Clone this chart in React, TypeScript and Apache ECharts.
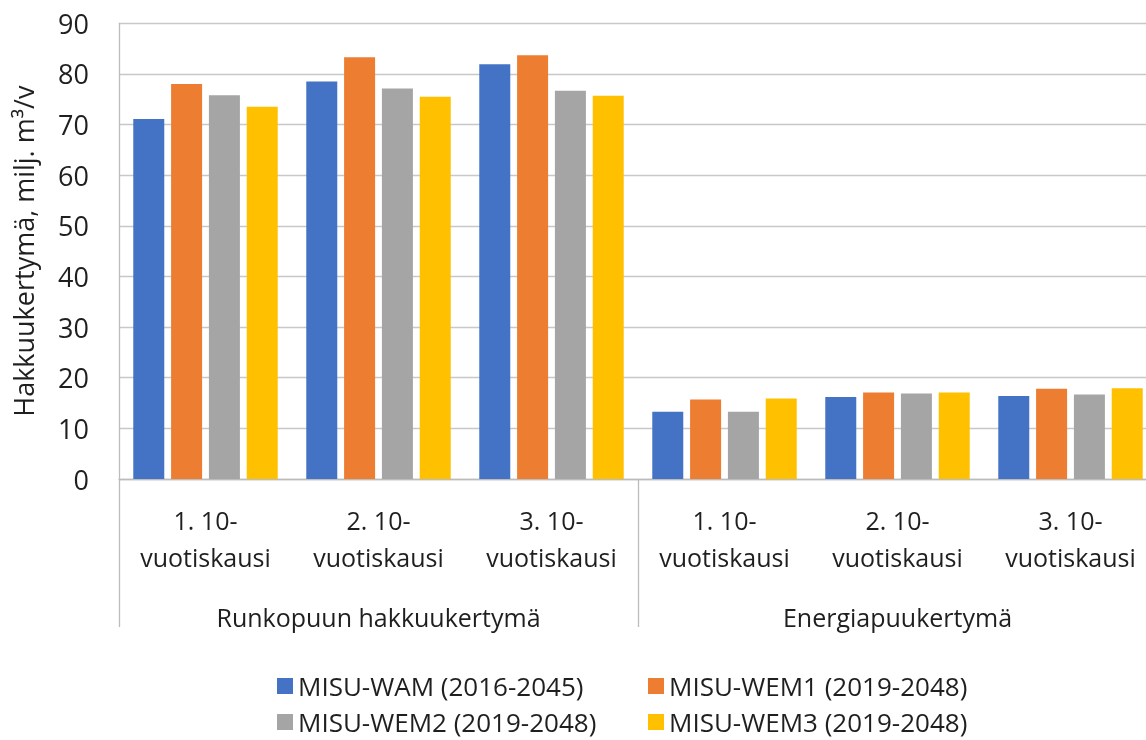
import React, { useEffect, useRef } from "react";
import * as echarts from "echarts";

const subCategories = [
  "1. 10-\nvuotiskausi",
  "2. 10-\nvuotiskausi",
  "3. 10-\nvuotiskausi",
  "1. 10-\nvuotiskausi",
  "2. 10-\nvuotiskausi",
  "3. 10-\nvuotiskausi",
];
const groupCategories = ["Runkopuun hakkuukertymä", "Energiapuukertymä"];

const seriesNames = [
  "MISU-WAM (2016-2045)",
  "MISU-WEM1 (2019-2048)",
  "MISU-WEM2 (2019-2048)",
  "MISU-WEM3 (2019-2048)",
];
const wam = [71.1, 78.5, 81.9, 13.3, 16.2, 16.4];
const wem1 = [78.0, 83.3, 83.7, 15.7, 17.1, 17.8];
const wem2 = [75.8, 77.1, 76.7, 13.3, 16.9, 16.7];
const wem3 = [73.5, 75.5, 75.7, 15.9, 17.1, 17.9];
const colors = ["#4472C4", "#ED7D31", "#A5A5A5", "#FFC000"];

const yTitle = "Hakkuukertymä, milj. m³/v";
const FONT = "'Open Sans', sans-serif";
const TEXT = "#1f1f1f";

export default function App() {
  const ref = useRef<HTMLDivElement>(null);
  useEffect(() => {
    if (!ref.current) return;
    const chart = echarts.init(ref.current, undefined, { renderer: "svg" });
    const values = [wam, wem1, wem2, wem3];
    const legendPos = [
      { left: 277, top: 672 },
      { left: 648, top: 672 },
      { left: 277, top: 708 },
      { left: 648, top: 708 },
    ];
    chart.setOption({
      animation: false,
      textStyle: { fontFamily: FONT },
      grid: { left: 119, top: 23.3, width: 1038, height: 455.7 },
      legend: seriesNames.map((n, i) => ({
        data: [n],
        left: legendPos[i].left,
        top: legendPos[i].top,
        icon: "rect",
        itemWidth: 16,
        itemHeight: 16,
        padding: 0,
        textStyle: { fontSize: 26, color: TEXT, fontFamily: FONT, lineHeight: 28 },
      })),
      xAxis: [
        {
          type: "category",
          data: subCategories,
          position: "bottom",
          axisLine: { show: true, lineStyle: { color: "#bcbcbc", width: 1.3 } },
          axisTick: { show: false },
          axisLabel: {
            fontSize: 25,
            lineHeight: 37,
            color: TEXT,
            fontFamily: FONT,
            margin: 22,
            interval: 0,
          },
        },
        {
          type: "category",
          data: groupCategories,
          position: "bottom",
          offset: 0,
          axisLine: { show: false },
          axisTick: {
            show: true,
            length: 148,
            lineStyle: { color: "#bcbcbc", width: 1.3 },
          },
          axisLabel: {
            fontSize: 25,
            lineHeight: 30,
            color: TEXT,
            fontFamily: FONT,
            margin: 123,
            interval: 0,
          },
        },
      ],
      yAxis: {
        type: "value",
        min: 0,
        max: 90,
        interval: 10,
        name: yTitle,
        nameLocation: "middle",
        nameGap: 82,
        nameTextStyle: { fontSize: 27, color: TEXT, fontFamily: FONT },
        axisLine: { show: true, lineStyle: { color: "#bcbcbc", width: 1.3 } },
        axisTick: { show: false },
        axisLabel: { fontSize: 27, color: TEXT, fontFamily: FONT, margin: 30 },
        splitLine: { lineStyle: { color: "#c8c8c8", width: 1.3 } },
      },
      series: seriesNames.map((n, i) => ({
        name: n,
        type: "bar",
        xAxisIndex: 0,
        data: values[i],
        barWidth: 31,
        barGap: "22%",
        itemStyle: { color: colors[i] },
      })),
    });
    return () => chart.dispose();
  }, []);
  return (
    <div
      ref={ref}
      style={{ position: "fixed", left: 0, top: 0, width: 1180, height: 740 }}
    />
  );
}
